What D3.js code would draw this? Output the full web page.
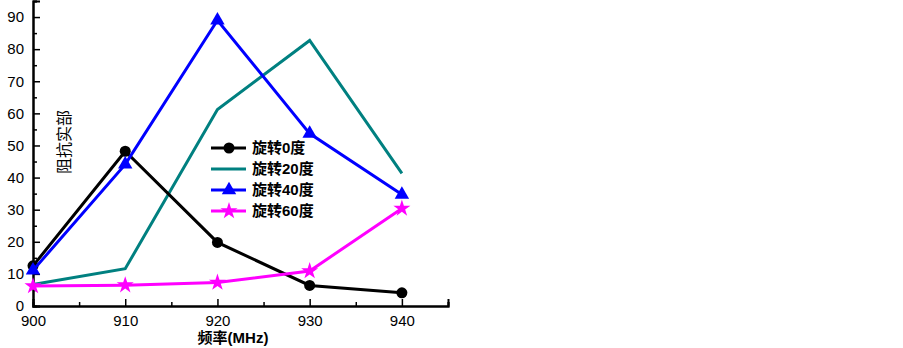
<!DOCTYPE html>
<html>
<head>
<meta charset="utf-8">
<script src="https://cdn.jsdelivr.net/npm/d3@7"></script>
<style>
  body { margin: 0; background: #fff; }
  text { font-family: Arial, "Liberation Sans", "Noto Sans CJK SC", sans-serif; }
</style>
</head>
<body>
<div id="chart"></div>
<script>
// Data
const freqs = [900, 910, 920, 930, 940];
const rot0 = [12.5, 48.2, 19.8, 6.4, 4.1];
const rot20 = [6.7, 11.6, 61.2, 82.7, 41.3];
const rot40 = [11.1, 44.1, 89.0, 53.7, 34.7];
const rot60 = [6.2, 6.5, 7.3, 10.9, 30.4];
const seriesNames = ["旋转0度", "旋转20度", "旋转40度", "旋转60度"];
const xTicks = [900, 910, 920, 930, 940];
const yTicks = [0, 10, 20, 30, 40, 50, 60, 70, 80, 90];

const series = [
    { name: seriesNames[0], values: rot0, color: "#000000", marker: "circle" },
    { name: seriesNames[1], values: rot20, color: "#008080", marker: null },
    { name: seriesNames[2], values: rot40, color: "#0000ff", marker: "triangle" },
    { name: seriesNames[3], values: rot60, color: "#ff00ff", marker: "star" }
];

const svgWidth = 903, svgHeight = 348;
const margin = { top: 1, left: 33 };
const width = 415, height = 305;

const svg = d3.select("#chart").append("svg")
    .attr("width", svgWidth)
    .attr("height", svgHeight);

const g = svg.append("g")
    .attr("transform", `translate(${margin.left},${margin.top})`);

const xScale = d3.scaleLinear().domain([900, 945]).range([0, width]);
const yScale = d3.scaleLinear().domain([0, 95]).range([height, 0]);

// Axes with inward ticks
const xAxis = d3.axisBottom(xScale).tickValues(xTicks).tickSize(-7).tickPadding(9).tickFormat(d3.format("d"));
const xMinor = d3.axisBottom(xScale).tickValues([905, 915, 925, 935, 945]).tickSize(-4).tickFormat("");
const yAxis = d3.axisLeft(yScale).tickValues(yTicks).tickSize(-7).tickPadding(9);
const yMinor = d3.axisLeft(yScale).tickValues([5, 15, 25, 35, 45, 55, 65, 75, 85, 95]).tickSize(-4).tickFormat("");

function styleAxis(sel) {
    sel.select(".domain").attr("stroke", "#000").attr("stroke-width", 2);
    sel.selectAll(".tick line").attr("stroke", "#000").attr("stroke-width", 1.5);
    sel.selectAll(".tick text").style("font-size", "15px").attr("fill", "#000");
}

g.append("g").attr("transform", `translate(0,${height})`).call(xMinor).call(styleAxis);
g.append("g").attr("transform", `translate(0,${height})`).call(xAxis).call(styleAxis);
g.append("g").call(yMinor).call(styleAxis);
g.append("g").call(yAxis).call(styleAxis);

// Axis labels
svg.append("text")
    .attr("x", 233)
    .attr("y", 343)
    .style("text-anchor", "middle")
    .style("font-size", "15px")
    .style("font-weight", "bold")
    .text("频率(MHz)");

svg.append("text")
    .attr("transform", "translate(70,142) rotate(-90)")
    .style("text-anchor", "middle")
    .style("font-size", "16px")
    .text("阻抗实部");

const line = d3.line()
    .x((d, i) => xScale(freqs[i]))
    .y(d => yScale(d));

const starPath = d3.symbol().type(d3.symbolStar).size(90)();
const triPath = d3.symbol().type(d3.symbolTriangle).size(90)();

function drawMarker(sel, type, color) {
    if (type === "circle") {
        sel.append("circle").attr("r", 5.5).attr("fill", color);
    } else if (type === "triangle") {
        sel.append("path").attr("d", triPath).attr("fill", color);
    } else if (type === "star") {
        sel.append("path").attr("d", starPath).attr("fill", color);
    }
}

// Draw series in order (teal under blue etc. as in original)
const drawOrder = [1, 0, 2, 3];
drawOrder.forEach(k => {
    const s = series[k];
    g.append("path")
        .attr("d", line(s.values))
        .attr("fill", "none")
        .attr("stroke", s.color)
        .attr("stroke-width", 3)
        .attr("stroke-linejoin", "miter");
    if (s.marker) {
        s.values.forEach((v, i) => {
            const m = g.append("g").attr("transform", `translate(${xScale(freqs[i])},${yScale(v)})`);
            drawMarker(m, s.marker, s.color);
        });
    }
});

// Legend
const legend = svg.append("g").attr("transform", "translate(211,148)");
series.forEach((s, i) => {
    const row = legend.append("g").attr("transform", `translate(0,${i * 21})`);
    row.append("line")
        .attr("x1", 0).attr("x2", 35)
        .attr("stroke", s.color)
        .attr("stroke-width", 3);
    if (s.marker) {
        const m = row.append("g").attr("transform", "translate(18,0)");
        drawMarker(m, s.marker, s.color);
    }
    row.append("text")
        .attr("x", 41)
        .attr("y", 5)
        .style("font-size", "15px")
        .style("font-weight", "bold")
        .text(s.name);
});
</script>
</body>
</html>
